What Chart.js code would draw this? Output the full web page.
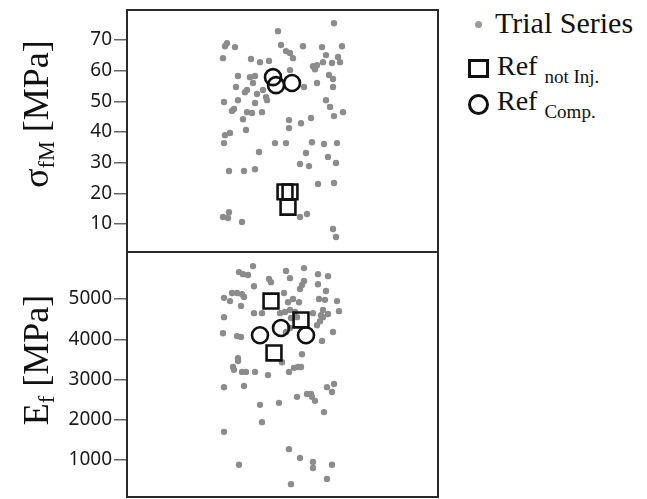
<!DOCTYPE html>
<html><head><meta charset="utf-8">
<script src="https://cdn.jsdelivr.net/npm/chart.js@4/dist/chart.umd.min.js"></script>
<style>
html,body{margin:0;padding:0;background:#fff;}
body{width:647px;height:499px;position:relative;overflow:hidden;}
canvas{position:absolute;left:0;display:block;}
#c1{top:-5px;}
#c2{top:237px;}
.title{position:absolute;font-family:"Liberation Serif",serif;font-size:36px;line-height:1;white-space:nowrap;color:#111;transform:translate(-50%,-50%) rotate(-90deg);}
.title sub{font-size:0.62em;vertical-align:baseline;position:relative;top:0.28em;}
.lt{position:absolute;font-family:"Liberation Serif",serif;line-height:1;white-space:nowrap;color:#111;}
.lt sub{font-size:19px;vertical-align:baseline;position:relative;top:8px;}
.mk{position:absolute;box-sizing:border-box;}
</style></head>
<body>
<canvas id="c1" width="460" height="272"></canvas>
<canvas id="c2" width="460" height="275"></canvas>
<div class="title" style="left:36px;top:114px;">σ<sub>fM</sub> [MPa]</div>
<div class="title" style="left:36px;top:360px;">E<sub>f</sub> [MPa]</div>

<div class="mk" style="left:475px;top:21px;width:7px;height:7px;border-radius:50%;background:#9a9a9a;"></div>
<div class="lt" style="left:495px;top:8px;font-size:30px;">Trial Series</div>
<div class="mk" style="left:468px;top:59px;width:21px;height:19px;border:3px solid #111;"></div>
<div class="lt" style="left:497px;top:52px;font-size:28px;">Ref <sub>not Inj.</sub></div>
<div class="mk" style="left:468px;top:94px;width:21px;height:21px;border:3.5px solid #111;border-radius:50%;"></div>
<div class="lt" style="left:497px;top:87px;font-size:28px;">Ref <sub>Comp.</sub></div>

<script>
// ---- Data (x = horizontal jitter position, arbitrary units 0..311) ----
const sigmaTicks = [10, 20, 30, 40, 50, 60, 70];
const eTicks = [1000, 2000, 3000, 4000, 5000];

// Flexural strength σfM [MPa]
const sigmaTrialX = [207,151,100,98,108,154,159,163,176,195,215,96,124,133,142,166,199,211,213,205,186,188,190,196,111,123,128,163,202,206,206,190,109,120,126,118,130,136,139,140,111,97,107,105,120,128,135,125,116,162,162,174,184,199,203,207,216,103,98,97,119,148,159,185,197,210,132,179,201,173,182,209,102,117,128,191,207,102,96,101,115,173,180,206,209,177];
const sigmaTrialY = [75.5,72.9,69.0,68.0,67.7,68.4,66.4,65.8,68.0,67.7,68.0,64.1,63.8,62.8,63.2,64.1,65.1,64.5,62.8,62.5,61.5,60.5,61.8,62.8,58.3,57.9,58.3,60.2,58.6,57.3,54.7,56.0,54.7,53.7,56.0,53.0,52.4,53.7,51.4,50.4,50.4,49.8,47.5,46.9,46.5,49.5,46.5,46.2,44.2,43.9,41.3,42.9,44.6,50.4,48.2,45.2,46.5,39.7,39.0,36.4,40.7,36.4,36.4,36.7,36.1,36.4,33.5,33.2,31.9,29.6,28.9,29.9,27.3,27.3,27.9,23.1,23.4,13.9,12.3,12.0,10.7,12.3,13.3,8.4,5.8,54.7];
const sigmaRefNotInjX = [158, 163, 161];
const sigmaRefNotInjY = [20.5, 20.5, 15.5];
const sigmaRefCompX = [146, 149, 165];
const sigmaRefCompY = [57.9, 55.3, 56.0];

// Flexural modulus Ef [MPa]
const eTrialX = [126,112,116,121,159,177,191,201,142,144,163,177,175,127,191,173,199,105,110,115,117,97,103,157,166,172,161,192,198,210,114,127,135,153,158,163,168,186,196,194,201,212,97,164,170,196,193,190,159,163,96,110,114,206,195,111,111,175,155,106,107,115,119,128,141,162,167,171,174,97,117,133,152,170,180,184,185,188,200,207,205,197,135,97,162,173,186,186,205,112,200,164];
const eTrialY = [5820,5670,5620,5600,5700,5770,5620,5570,5500,5420,5520,5450,5350,5320,5370,5250,5200,5150,5150,5120,5050,5030,4950,5150,5000,4920,4920,5000,4980,4950,4830,4650,4650,4650,4680,4730,4680,4650,4730,4600,4630,4700,4550,4530,4550,4550,4450,4350,4180,4280,4150,4080,4060,4180,3960,3530,3460,3630,3430,3310,3240,3190,3190,3190,3110,3190,3290,3310,3310,2810,2840,2370,2420,2570,2640,2640,2570,2470,2810,2890,2690,2190,1940,1700,1270,1050,950,800,880,880,530,400];
const eRefNotInjX = [144, 174, 147];
const eRefNotInjY = [4950, 4480, 3660];
const eRefCompX = [133, 154, 179];
const eRefCompY = [4100, 4280, 4100];

const pts = (xs, ys) => xs.map((x, i) => ({x, y: ys[i]}));

const frame = {
  id: 'frame',
  afterDatasetsDraw(c) {
    const {ctx, chartArea: a} = c;
    ctx.save();
    ctx.strokeStyle = '#2a2a2a';
    ctx.lineWidth = 2;
    ctx.strokeRect(a.left, a.top, a.right - a.left, a.bottom - a.top);
    ctx.restore();
  }
};

function sets(tx, ty, nx, ny, cx, cy) {
  return [
    {label: 'Ref not Inj.', data: pts(nx, ny), pointStyle: 'rect', pointRadius: 10.5, borderWidth: 2.6, borderColor: '#111', backgroundColor: 'rgba(0,0,0,0)', order: 1},
    {label: 'Ref Comp.', data: pts(cx, cy), pointStyle: 'circle', pointRadius: 8, borderWidth: 2.6, borderColor: '#111', backgroundColor: 'rgba(0,0,0,0)', order: 2},
    {label: 'Trial Series', data: pts(tx, ty), pointStyle: 'circle', pointRadius: 3.2, borderWidth: 0, backgroundColor: '#8c8c8c', order: 3}
  ];
}

function makeChart(id, datasets, yMin, yMax, ticks, padding) {
  return new Chart(document.getElementById(id), {
    type: 'scatter',
    data: {datasets},
    options: {
      responsive: false, animation: false, devicePixelRatio: 1,
      layout: {padding},
      plugins: {legend: {display: false}, tooltip: {enabled: false}},
      events: [],
      scales: {
        x: {type: 'linear', display: false, min: 0, max: 311},
        y: {
          type: 'linear', min: yMin, max: yMax,
          afterBuildTicks: s => { s.ticks = ticks.map(v => ({value: v})); },
          afterFit: s => { s.width = 127; },
          grid: {drawOnChartArea: false, drawTicks: true, tickLength: 13, color: '#666', lineWidth: 1.5},
          border: {display: false},
          ticks: {padding: 2, color: '#1a1a1a', font: {family: 'Noto Sans', size: 19}, callback: v => String(v)}
        }
      }
    },
    plugins: [frame]
  });
}

makeChart('c1', sets(sigmaTrialX, sigmaTrialY, sigmaRefNotInjX, sigmaRefNotInjY, sigmaRefCompX, sigmaRefCompY), 0.9, 79.8, sigmaTicks, {left: 0, right: 22, top: 15, bottom: 15});
makeChart('c2', sets(eTrialX, eTrialY, eRefNotInjX, eRefNotInjY, eRefCompX, eRefCompY), 80, 6170, eTicks, {left: 0, right: 22, top: 15, bottom: 15});
</script>
</body></html>
